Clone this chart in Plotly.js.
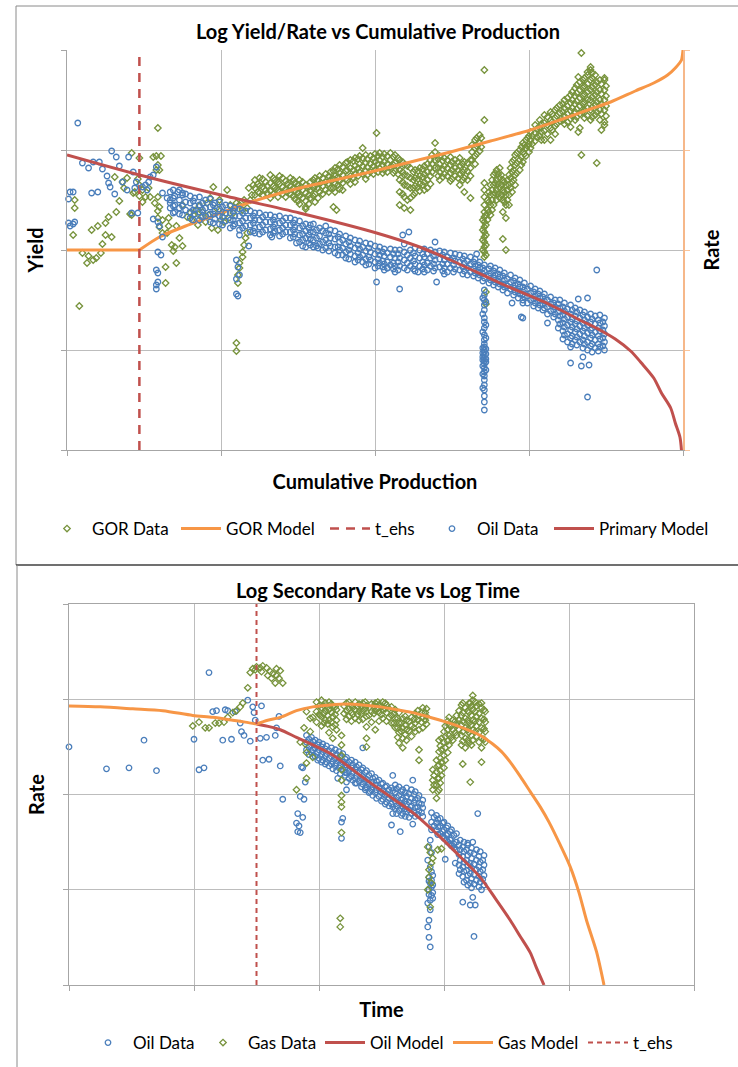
<!DOCTYPE html>
<html><head><meta charset="utf-8">
<script src="https://cdn.plot.ly/plotly-3.0.1.min.js"></script>
<style>html,body{margin:0;padding:0;background:#fff}#chart{width:738px;height:1067px}</style>
</head><body><div id="chart"></div>
<script>
// ===== Top chart: Log Yield/Rate vs Cumulative Production (x: cumulative, y: log10 value) =====
// rows: [x, y1, y2, ...]
const topGorData = [
 [0.59,3.22],[0.42,2.97],[0.56,2.93],[0.58,2.94],[0.61,2.94],[0.47,2.92],[0.59,2.85],[0.58,2.80],[0.60,2.80],[0.31,2.73],[0.36,2.68],[0.39,2.72],[0.46,2.71],[0.47,2.65],[0.44,2.58],[0.37,2.62],[0.43,2.57],[0.49,2.60],[0.53,2.62],[0.05,2.50],[0.05,2.42],[0.34,2.49],[0.47,2.54],[0.51,2.53],[0.54,2.53],[0.59,2.53],[0.49,2.48],[0.57,2.47],[0.60,2.43],[0.59,2.39],[0.32,2.38],[0.27,2.33],[0.25,2.27],[0.20,2.24],[0.16,2.20],[0.04,2.15],[0.29,2.13],[0.25,2.15],[0.23,2.06],[0.41,2.36],[0.42,2.35],[0.59,2.32],[0.62,2.30],[0.66,2.32],[0.60,2.23],[0.66,2.24],[0.62,2.17],[0.65,2.17],[0.71,2.24],[0.73,2.12],[0.68,2.05],[0.70,2.03],[0.69,1.99],[0.75,2.04],[0.71,1.87],[0.64,1.83],[0.64,1.67],[0.10,1.97],[0.14,1.94],[0.13,1.87],[0.17,1.90],[0.19,1.92],[0.22,1.97],[0.08,1.44],
 [0.78,2.33],[0.80,2.37],[0.82,2.35],[0.84,2.40],[0.86,2.44],[0.88,2.38],[0.91,2.47],[0.93,2.52],[0.95,2.63],[0.97,2.42],[0.99,2.50],[1.01,2.38],[1.04,2.60],[1.06,2.45],[1.08,2.37],[1.10,2.47],[0.98,2.20],[1.02,2.28],[1.14,2.40],[1.17,2.42],[1.19,2.50],[1.20,2.55],[0.90,2.28],[0.85,2.25],[0.94,2.22],[0.75,2.45],[0.81,2.30],[0.87,2.33],[0.92,2.35],[1.00,2.30],[1.05,2.32],[1.12,2.45],[1.15,2.50],[1.18,2.62],[1.21,2.65],
 [1.17,2.17],[1.16,2.12],[1.15,2.05],[1.14,1.98],[1.14,1.93],[1.12,1.87],[1.12,1.82],[1.11,1.75],[1.11,1.67],[1.10,1.07],[1.10,0.99],
 [1.22,2.70,2.62,2.55],[1.25,2.72,2.64,2.57],[1.29,2.68,2.60],[1.32,2.75,2.67,2.59,2.52],[1.35,2.70,2.62],[1.38,2.74,2.66,2.58],[1.42,2.69,2.61,2.53],[1.45,2.72,2.64,2.56],[1.48,2.67,2.59,2.51],[1.51,2.70,2.62,2.54,2.46],[1.55,2.65,2.57,2.49,2.41],[1.58,2.68,2.60,2.52],[1.61,2.72,2.64,2.56,2.48],[1.64,2.74,2.66,2.58],[1.68,2.76,2.68,2.60],[1.71,2.78,2.70,2.62],[1.74,2.82,2.74,2.66,2.58],[1.77,2.85,2.77,2.69,2.61],[1.81,2.87,2.79,2.71],[1.84,2.90,2.82,2.74,2.66],[1.87,2.92,2.84,2.76,2.68],[1.90,2.94,2.86,2.78],[1.94,2.95,2.87,2.79,2.71],[1.97,2.94,2.86,2.78],[2.00,2.96,2.88,2.80],[2.03,2.97,2.90,2.82],[2.06,2.96,2.88,2.80],[2.10,2.97,2.90,2.83],[2.13,2.95,2.87,2.79],[2.16,2.90,2.80,2.70,2.58,2.45],[2.19,2.85,2.75,2.65,2.53,2.42],[2.23,2.82,2.72,2.62,2.52,2.40],[2.26,2.80,2.72,2.64,2.57],[2.29,2.82,2.74,2.66,2.59],[2.32,2.84,2.76,2.68,2.60],[2.36,2.90,2.82,2.74,2.66],[2.39,3.07,2.98,2.90,2.82],[2.42,2.94,2.86,2.78,2.70],[2.45,2.92,2.84,2.76],[2.49,2.93,2.85,2.77,2.69],[2.52,2.90,2.82,2.74],[2.55,2.92,2.84,2.76,2.65],[2.58,2.88,2.80,2.72,2.58],[2.62,2.90,2.82,2.74,2.52],[2.65,3.10,3.02,2.94,2.86],[2.68,3.15,3.07,2.99],
 [1.24,2.66,2.58],[1.27,2.71,2.63,2.55],[1.30,2.64,2.57],[1.34,2.72,2.64,2.56],[1.37,2.68,2.60,2.53],[1.40,2.72,2.63,2.56],[1.43,2.66,2.58],[1.47,2.70,2.62,2.54],[1.50,2.65,2.57,2.49],[1.53,2.68,2.60,2.52],[1.57,2.63,2.55,2.46],[1.60,2.70,2.62,2.54],[1.63,2.70,2.62,2.52],[1.66,2.72,2.64,2.56],[1.70,2.74,2.66,2.58],[1.73,2.79,2.71,2.62],[1.76,2.81,2.73,2.65],[1.79,2.83,2.75,2.67,2.60],[1.82,2.88,2.80,2.70],[1.86,2.89,2.80,2.72],[1.89,2.91,2.82,2.74],[1.92,2.92,2.84,2.76],[1.95,2.91,2.83,2.75],[1.99,2.92,2.84,2.76],[2.02,2.94,2.86,2.78],[2.05,2.93,2.85,2.77],[2.08,2.94,2.86,2.78],[2.12,2.93,2.85,2.77],[2.15,2.92,2.84,2.76],[2.18,2.88,2.78,2.68,2.56],[2.21,2.84,2.74,2.64,2.50],[2.25,2.78,2.70,2.62,2.55],[2.28,2.79,2.71,2.63],[2.31,2.81,2.73,2.65],[2.34,2.86,2.78,2.70,2.62],[2.37,2.95,2.86,2.78],[2.41,2.91,2.82,2.74],[2.44,2.89,2.81,2.73],[2.47,2.90,2.82,2.74],[2.50,2.88,2.80,2.71],[2.54,2.88,2.80,2.72],[2.57,2.86,2.78,2.70],[2.60,2.87,2.79,2.70],[2.63,3.05,2.98,2.90],[2.66,3.12,3.04,2.96],[2.69,3.12,3.03],
 [2.71,3.80],[2.71,3.30],[2.01,3.17],[1.92,3.02],[1.55,2.43],[1.73,2.43],[1.75,2.40],
 [2.71,2.67,2.60,2.53,2.45,2.38,2.33,2.28,2.23,2.18,2.13,2.08,2.03,1.98,1.93],[2.70,2.30,2.20,2.10,2.00],[2.72,2.35,2.25,2.15,2.05,1.95,1.58,1.46],
 [2.73,2.50,2.40,2.30],[2.75,2.65,2.55,2.45,2.35],[2.77,2.75,2.65,2.55,2.45],[2.79,2.80,2.70,2.60,2.50],[2.81,2.82,2.72,2.62,2.52],[2.83,2.70,2.60,2.50,2.38,2.11],[2.85,2.65,2.55,2.45,2.32,2.00],[2.87,2.75,2.65,2.55,2.45],[2.89,2.88,2.78,2.68,2.58],[2.91,2.95,2.85,2.75,2.65],[2.94,3.00,2.90,2.80],[2.96,3.07,2.98,2.88],[2.98,3.10,3.02,2.94],[3.00,3.14,3.06,2.98],[3.01,3.18,3.10,3.02],[3.04,3.25,3.17,3.09],[3.07,3.30,3.22,3.14],[3.10,3.35,3.27,3.19,3.10],[3.14,3.38,3.30,3.22],[3.17,3.40,3.32,3.24,3.16],[3.20,3.45,3.37,3.29],[3.23,3.50,3.42,3.34,3.26],[3.27,3.55,3.47,3.39,3.31,3.23],[3.30,3.62,3.54,3.46,3.38,3.30],[3.33,3.68,3.60,3.52,3.44,3.36,3.22],[3.36,3.72,3.64,3.56,3.48,3.40,3.32],[3.40,3.80,3.70,3.60,3.50,3.40,3.30],[3.43,3.75,3.65,3.55,3.45,3.35],[3.46,3.70,3.60,3.50,3.40,3.30],[3.49,3.70,3.60,3.50,3.40,3.28],
 [2.74,2.58,2.48,2.38],[2.76,2.70,2.60,2.50,2.40],[2.78,2.77,2.67,2.57],[2.80,2.76,2.66,2.56],[2.82,2.75,2.65,2.55],[2.84,2.68,2.58,2.48],[2.86,2.70,2.60,2.50],[2.88,2.82,2.72,2.62],[2.90,2.90,2.80,2.70],[2.92,2.97,2.87,2.77],[2.95,3.03,2.93,2.85],[2.97,3.05,2.96],[2.99,3.12,3.04],
 [3.02,3.14,3.06],[3.05,3.21,3.13],[3.08,3.26,3.18,3.10],[3.12,3.33,3.25,3.16],[3.15,3.36,3.28,3.20],[3.18,3.42,3.34,3.26],[3.22,3.46,3.38,3.30],[3.25,3.52,3.44,3.36,3.28],[3.28,3.58,3.50,3.42,3.34],[3.31,3.65,3.57,3.49,3.41,3.33],[3.35,3.70,3.62,3.54,3.46,3.38],[3.38,3.75,3.66,3.58,3.50,3.42,3.34],[3.41,3.72,3.63,3.53,3.43,3.33],[3.44,3.68,3.58,3.48,3.38],[3.47,3.66,3.56,3.46,3.36],[3.50,3.64,3.54,3.44,3.34],
 [3.34,3.97],[3.40,3.83],[3.38,3.78],[3.32,3.73],[3.49,3.72],[3.41,3.77],[3.34,2.95],[3.44,2.87],[3.32,3.18],[3.49,3.25],[3.47,3.20],[3.14,3.10]
];
const topGorModelX = [0.00,0.47,0.60,0.77,0.95,1.12,1.32,1.51,1.74,1.97,2.23,2.49,2.75,3.01,3.20,3.40,3.53,3.69,3.81,3.90,3.95,3.99,4.00];
const topGorModelY = [2.00,2.00,2.13,2.24,2.34,2.44,2.54,2.62,2.70,2.78,2.88,2.98,3.09,3.20,3.30,3.41,3.48,3.59,3.67,3.75,3.82,3.90,4.00];
const topTehsX = [0.47,0.47];
const topTehsY = [0.00,3.97];
const topOilData = [
 [0.07,3.27],[0.29,2.99],[0.32,2.93],[0.40,2.93],[0.10,2.87],[0.14,2.82],[0.17,2.88],[0.21,2.88],[0.23,2.81],[0.34,2.84],[0.26,2.74],[0.27,2.67],[0.28,2.63],[0.36,2.68],[0.43,2.78],[0.45,2.68],[0.44,2.62],[0.49,2.63],[0.51,2.65],[0.53,2.68],[0.54,2.73],[0.56,2.75],[0.58,2.83],[0.52,2.60],[0.04,2.58],[0.02,2.58],[0.01,2.51],[0.16,2.57],[0.20,2.58],[0.31,2.56],[0.39,2.60],[0.01,2.27],[0.04,2.26],[0.05,2.28],[0.02,2.24],[0.42,2.37],[0.46,2.37],[0.56,2.31],[0.59,2.28],[0.60,2.24],[0.62,2.13],[0.59,1.98],[0.61,1.95],[0.58,1.80],[0.59,1.77],[0.59,1.68],[0.58,1.65],[0.58,1.61],[0.62,2.57],[0.65,2.52],[0.67,2.50],[0.69,2.60],[0.72,2.58],[0.75,2.57],
 [0.67,2.58,2.47,2.42],[0.70,2.54,2.45,2.38],[0.73,2.60,2.50,2.42,2.36],[0.77,2.56,2.48,2.40],[0.80,2.54,2.47,2.38,2.32],[0.83,2.52,2.44,2.36],[0.86,2.53,2.45,2.38,2.30],[0.90,2.50,2.42,2.34],[0.93,2.51,2.43,2.36,2.28],[0.96,2.47,2.39,2.31],[0.99,2.48,2.41,2.34,2.26],[1.03,2.45,2.37,2.29],[1.06,2.44,2.37,2.30,2.22],[1.09,2.42,2.34,2.26],[1.12,2.41,2.34,2.27,2.20],[1.16,2.39,2.32,2.24],[1.19,2.39,2.32,2.25,2.18],[1.22,2.37,2.30,2.22],[1.25,2.37,2.30,2.23,2.16],[1.29,2.35,2.28,2.20],[1.32,2.35,2.28,2.21,2.15],[1.35,2.33,2.26,2.19],[1.38,2.34,2.27,2.20,2.14],[1.42,2.32,2.25,2.18],[1.45,2.32,2.25,2.18,2.12],[1.48,2.30,2.23,2.16],[1.51,2.29,2.22,2.15,2.08],[1.55,2.26,2.19,2.12],[1.58,2.25,2.18,2.11,2.05],
 [1.60,2.26,2.18,2.10,2.03],[1.64,2.22,2.14,2.06],[1.68,2.24,2.17,2.10,2.02],[1.71,2.20,2.12,2.04],[1.74,2.19,2.11,2.03,1.97],[1.77,2.16,2.08,2.00],[1.81,2.14,2.06,1.98,1.92],[1.84,2.12,2.04,1.96],[1.87,2.10,2.02,1.94,1.88],[1.90,2.09,2.01,1.93],[1.94,2.07,1.99,1.91,1.85],[1.97,2.06,1.98,1.90],[2.00,2.04,1.96,1.88,1.82],[2.03,2.03,1.95,1.87],[2.06,2.01,1.94,1.86,1.80],[2.10,2.01,1.93,1.85],[2.13,2.00,1.92,1.84,1.78],[2.16,2.00,1.92,1.84],[2.19,2.06,1.98,1.90,1.82],[2.23,2.00,1.92,1.84],[2.26,2.02,1.94,1.86,1.79],[2.29,2.00,1.92,1.84],[2.32,2.01,1.93,1.85,1.78],[2.36,2.00,1.92,1.84],[2.39,2.08,1.98,1.90,1.82],[2.42,1.99,1.91,1.83],[2.45,1.98,1.90,1.82,1.76],[2.49,1.97,1.90,1.82],[2.52,1.96,1.89,1.81],[2.55,1.95,1.88,1.80],[2.58,1.94,1.87,1.79],[2.62,1.93,1.86,1.78],[2.65,1.91,1.84,1.77],[2.68,1.88,1.82,1.75],[2.71,1.85,1.79,1.72],[2.75,1.84,1.77,1.70],[2.78,1.82,1.75,1.68],[2.81,1.80,1.73,1.66],[2.84,1.77,1.70,1.63],[2.88,1.75,1.68,1.61],[2.91,1.72,1.65,1.58],[2.94,1.70,1.63,1.56],[2.97,1.67,1.60,1.53],[3.01,1.64,1.57,1.50],[3.04,1.61,1.54,1.47],[3.07,1.59,1.52,1.45],[3.10,1.56,1.49,1.42],[3.14,1.53,1.46,1.39],[3.17,1.50,1.43,1.36],[3.20,1.50,1.42,1.34,1.26],[3.23,1.47,1.39,1.31,1.23,1.15],[3.27,1.45,1.36,1.28,1.20,1.12],[3.30,1.42,1.34,1.26,1.18,1.10],[3.33,1.40,1.32,1.24,1.16,1.08],[3.36,1.38,1.30,1.22,1.14,1.06],[3.40,1.36,1.28,1.20,1.12,1.04],[3.43,1.34,1.26,1.18,1.10,1.02],[3.46,1.35,1.27,1.19,1.11,1.03],[3.49,1.32,1.24,1.16,1.08],
 [0.69,2.52,2.44,2.37],[0.75,2.55,2.44,2.35],[0.82,2.49,2.40,2.30],[0.88,2.47,2.40,2.33],[0.95,2.45,2.36,2.27],[1.01,2.43,2.33,2.25],[1.08,2.39,2.30,2.24],[1.14,2.37,2.29,2.22],[1.21,2.34,2.27,2.19],[1.27,2.33,2.25,2.18],[1.34,2.30,2.23,2.17],[1.40,2.29,2.22,2.16],[1.47,2.27,2.20,2.13],[1.53,2.24,2.16,2.10],[1.57,2.22,2.15,2.07],[1.62,2.20,2.12,2.04],[1.66,2.19,2.08,2.00],[1.70,2.16,2.07,1.99],[1.76,2.13,2.03,1.95],[1.79,2.10,2.02,1.95],[1.83,2.08,2.00,1.91],[1.89,2.05,1.97,1.90],[1.92,2.03,1.95,1.88],[1.96,2.02,1.93,1.86],[2.02,1.99,1.91,1.84],[2.05,1.98,1.89,1.83],[2.08,1.97,1.88,1.82],[2.12,1.96,1.87,1.81],[2.15,1.96,1.88,1.80],[2.21,1.95,1.87,1.80],[2.25,1.97,1.89,1.81],[2.31,1.96,1.88,1.81],[2.34,1.96,1.87,1.80],[2.38,1.94,1.86,1.79],[2.44,1.95,1.86,1.79],[2.47,1.93,1.86,1.78],[2.51,1.92,1.85,1.78],[2.57,1.91,1.83,1.76],[2.60,1.89,1.82,1.75],[2.64,1.88,1.81,1.74],[2.67,1.85,1.78,1.72],[2.70,1.82,1.76,1.69],[2.74,1.81,1.74,1.67],[2.77,1.79,1.72,1.65],[2.80,1.76,1.69,1.63],[2.83,1.74,1.66,1.60],[2.86,1.71,1.64,1.57],[2.90,1.69,1.62,1.55],[2.93,1.66,1.59,1.52],[2.96,1.63,1.56,1.50],[2.99,1.61,1.54,1.47],[3.03,1.58,1.51,1.44],[3.06,1.56,1.49,1.42],[3.09,1.53,1.46,1.40],[3.12,1.50,1.43,1.36],[3.16,1.47,1.40,1.33],[3.19,1.46,1.38,1.30,1.22],[3.22,1.43,1.35,1.27,1.19,1.11],[3.25,1.41,1.33,1.25,1.16,1.08],[3.28,1.40,1.31,1.23,1.14,1.06],[3.31,1.38,1.29,1.21,1.13,1.05],[3.35,1.35,1.27,1.19,1.10,1.02],[3.38,1.33,1.25,1.17,1.08,1.00],[3.41,1.31,1.22,1.15,1.06,0.98],[3.45,1.30,1.22,1.14,1.06,0.99],[3.48,1.28,1.20,1.12,1.04],
 [1.12,2.15],[1.18,2.04],[1.10,1.90],[1.11,1.83],[1.12,1.75],[1.10,1.71],[1.11,1.54],[1.10,1.56],[1.22,2.17],[1.33,2.13],[1.49,2.07],[1.53,2.04],[1.55,2.03],[1.63,2.02],[2.01,1.68],[2.16,1.61],[2.28,1.78],[2.40,1.68],[2.18,2.15],[2.22,2.18],[2.08,1.82],[2.66,1.96],[2.89,1.47],[2.96,1.47],[2.96,1.32],[3.12,1.27],[3.44,1.80],[3.27,1.03],[3.27,0.87],[3.34,0.84],[3.39,0.85],[3.35,0.93],[3.38,0.53],[2.95,1.33],[3.32,1.51],[3.38,1.52],[3.49,1.00],
 [2.71,1.60,1.55,1.50,1.45,1.40,1.32,1.28,1.22,1.15,1.10,1.06,1.03,1.00,0.98,0.95,0.92,0.89,0.86,0.82,0.78,0.74,0.70,0.65,0.60,0.54,0.48,0.40],[2.70,1.52,1.36,1.18,1.02,0.97,0.93,0.90,0.84,0.76,0.62],[2.72,1.48,1.25,1.12,1.01,0.96,0.91,0.88,0.80]
];
const topPrimaryX = [0.00,0.47,1.00,1.51,2.01,2.29,2.49,2.81,3.14,3.33,3.46,3.56,3.66,3.73,3.81,3.86,3.92,3.95,3.98,3.99];
const topPrimaryY = [2.95,2.75,2.55,2.37,2.17,2.03,1.90,1.67,1.45,1.30,1.20,1.11,0.99,0.87,0.72,0.57,0.42,0.27,0.13,0.00];

// ===== Bottom chart: Log Secondary Rate vs Log Time (x: log10 time, y: log10 rate) =====
const botOilData = [
 [0.00,2.50],[0.30,2.27],[0.48,2.28],[0.70,2.25],[0.60,2.57],[1.00,2.58],[1.04,2.26],[1.08,2.28],[1.12,3.28],[1.15,2.87],[1.18,2.88],[1.23,2.57],[1.30,2.58],[1.25,2.89],[1.27,2.88],[1.33,2.87],[1.37,2.75],[1.38,2.66],[1.40,2.62],[1.43,2.99],[1.45,2.56],[1.47,2.92],[1.48,2.86],[1.49,2.78],[1.53,2.59],[1.54,2.93],[1.55,2.36],[1.58,2.60],[1.60,2.37],[1.65,2.62],[1.66,2.70],[1.68,2.82],[1.69,2.30],[1.71,1.95],
 [1.86,2.29],[1.87,2.28],[1.89,2.13],[1.85,1.98],[1.88,1.95],[1.83,1.80],[1.87,1.76],[1.82,1.70],[1.83,1.61],[1.84,1.67],[1.85,1.60],
 [1.90,2.62,2.55,2.47],[1.94,2.60,2.52,2.44],[1.97,2.57,2.49,2.40],[2.00,2.55,2.47,2.38],[2.03,2.53,2.45,2.36],[2.06,2.51,2.43,2.34],[2.10,2.49,2.40,2.32],[2.13,2.47,2.38,2.30],[2.16,2.45,2.36,2.28],[2.19,2.43,2.34,2.26],[2.22,2.39,2.31,2.23],[2.26,2.36,2.28,2.19],[2.29,2.34,2.26,2.17],[2.32,2.31,2.23,2.14],[2.35,2.28,2.19,2.11],[2.38,2.25,2.16,2.08],[2.42,2.22,2.13,2.05],[2.45,2.18,2.10,2.02],[2.48,2.15,2.07,1.98],[2.51,2.12,2.04,1.95],[2.54,2.09,2.01,1.92],[2.58,2.07,1.98,1.90],[2.61,2.10,2.02,1.93,1.85],[2.64,2.08,1.99,1.91,1.83],[2.67,2.05,1.96,1.88,1.80],[2.70,2.07,1.98,1.90,1.82],[2.74,2.05,1.96,1.88,1.80],[2.77,2.03,1.94,1.86,1.77],[2.80,1.99,1.91,1.83],[2.83,1.94,1.86,1.77],
 [1.92,2.58,2.50,2.42],[1.95,2.56,2.47,2.40],[1.99,2.52,2.44,2.36],[2.02,2.50,2.42,2.34],[2.05,2.48,2.40,2.32],[2.08,2.46,2.38,2.30],[2.11,2.44,2.35,2.27],[2.14,2.42,2.33,2.25],[2.17,2.40,2.31,2.22],[2.21,2.37,2.28,2.20],[2.24,2.34,2.25,2.17],[2.27,2.31,2.23,2.15],[2.30,2.29,2.20,2.12],[2.34,2.26,2.17,2.08],[2.37,2.23,2.14,2.05],[2.40,2.20,2.11,2.02],[2.43,2.17,2.08,1.99],[2.46,2.14,2.05,1.96],[2.50,2.11,2.02,1.93],[2.53,2.08,1.99,1.90],[2.56,2.05,1.96,1.88],[2.59,2.04,1.96,1.87,1.80],[2.62,2.06,1.97,1.88,1.80],[2.66,2.03,1.94,1.85,1.78],[2.69,2.02,1.93,1.85,1.77],[2.72,2.01,1.92,1.84,1.76],[2.76,2.00,1.91,1.82],[2.79,1.96,1.87,1.79],[2.82,1.90,1.81],
 [2.03,2.36],[2.15,2.17],[2.22,2.13],[2.29,2.12],[2.22,2.05],[2.37,2.07],[2.35,2.49],[2.41,2.03],[2.58,1.68],[2.65,1.61],[2.75,1.69],[2.18,1.71],[2.18,1.54],[2.19,1.75],[2.21,2.23],[2.59,2.20],[2.75,2.15],
 [2.89,1.52,1.24,1.07,0.89,0.79,0.40],[2.88,1.45,1.13,1.00,0.68,0.50],[2.90,1.39,1.19,1.10,1.03,0.94],[2.87,1.31,0.86,0.61],[2.91,1.15,1.05,0.97,0.91],[2.88,1.09,0.95],
 [2.90,1.81,1.71,1.63],[2.94,1.78,1.70,1.62],[2.97,1.75,1.67,1.59],[3.00,1.71,1.63,1.54],[3.03,1.67,1.59,1.50],[3.06,1.63,1.54,1.46],[3.10,1.59,1.50,1.42],[3.13,1.52,1.42,1.31,1.21],[3.16,1.50,1.40,1.29,1.19,1.08],[3.19,1.47,1.36,1.26,1.15,1.05],[3.22,1.44,1.33,1.23,1.12,1.02],[3.26,1.42,1.31,1.21,1.10],[3.29,1.40,1.29,1.19,1.08],[3.32,1.36,1.26,1.15,1.05],
 [2.92,1.76,1.67],[2.95,1.74,1.66,1.58],[2.99,1.70,1.61,1.56],[3.02,1.65,1.57,1.52],[3.05,1.61,1.52,1.48],[3.08,1.57,1.48,1.44],[3.12,1.47,1.37,1.26,1.17],[3.15,1.45,1.35,1.24,1.14],[3.18,1.42,1.31,1.20,1.10],[3.21,1.39,1.28,1.17,1.07],[3.24,1.38,1.27,1.16,1.06],[3.28,1.35,1.24,1.14,1.03],[3.31,1.31,1.21,1.11],
 [3.27,1.80],[3.23,1.50],[3.19,1.49],[3.01,1.32],[3.09,1.28],[3.15,0.87],[3.21,0.84],[3.25,0.84],[3.24,0.51],[3.23,0.92],[3.30,1.00]
];
const botGasData = [
 [0.99,2.72],[1.04,2.76],[1.09,2.70],[1.12,2.70],[1.17,2.75],[1.20,2.75],[1.24,2.76],[1.27,2.81],[1.31,2.86],[1.34,2.88],[1.37,2.92],[1.39,2.96],[1.43,3.12],
 [1.45,3.28],[1.47,3.32],[1.50,3.34],[1.53,3.33],[1.55,3.35],[1.58,3.33],[1.61,3.29],[1.63,3.27],[1.66,3.32],[1.69,3.30],[1.65,3.17],[1.68,3.22],[1.71,3.17],[1.62,3.22],[1.59,3.25],[1.54,3.29],[1.66,3.25],[1.49,3.31],
 [1.90,2.87],[1.95,2.81],[1.88,2.70],[1.93,2.66],[1.85,2.55],[1.89,2.53],[1.90,2.44],[1.90,2.33],[1.90,2.17],[1.82,2.05],[1.95,2.39],[1.93,2.80],[2.01,2.83],
 [1.98,2.97,2.87,2.76],[2.02,2.99,2.91,2.82,2.72],[2.05,2.96,2.88,2.78],[2.08,2.97,2.89,2.78,2.65],[2.11,2.93,2.82,2.71,2.59],[2.14,2.89,2.78,2.68],[2.18,2.62,2.52,2.41,2.26,2.15,1.99,1.92,1.87,1.60],[2.17,0.70,0.61],[2.22,2.96,2.88,2.79],[2.26,2.94,2.86,2.77],[2.29,2.97,2.89,2.80],[2.32,2.95,2.87,2.78],[2.35,2.96,2.88,2.79],[2.38,2.93,2.82,2.71,2.59,2.50],[2.42,2.95,2.87,2.76],[2.45,2.96,2.88,2.68],[2.48,2.94,2.86,2.77],[2.51,2.97,2.89,2.80],[2.54,2.94,2.86,2.77],[2.58,2.92,2.83,2.75],[2.61,2.89,2.80,2.70],[2.64,2.86,2.75,2.65,2.54],[2.67,2.80,2.70,2.59,2.49],[2.70,2.78,2.68,2.57],[2.74,2.81,2.72,2.61],[2.77,2.85,2.75,2.66],[2.80,2.83,2.68,2.47,2.36],[2.83,2.91,2.81,2.70],[2.86,2.90,2.82,2.74],
 [2.00,2.93,2.84],[2.04,2.93,2.85,2.75],[2.07,2.92,2.83,2.74],[2.10,2.95,2.86,2.76],[2.13,2.92,2.84,2.73],[2.20,2.93,2.85],[2.24,2.97,2.90,2.82],[2.27,2.91,2.84],[2.31,2.92,2.84],[2.34,2.93,2.85],[2.37,2.97,2.90],[2.40,2.91,2.83],[2.44,2.93,2.85],[2.47,2.97,2.90],[2.50,2.92,2.84],[2.53,2.96,2.90],[2.56,2.90,2.81],[2.60,2.85,2.75],[2.63,2.80,2.70,2.60],[2.66,2.75,2.66],[2.69,2.82,2.73,2.63],[2.72,2.77,2.67],[2.76,2.79,2.70],[2.79,2.88,2.78],[2.82,2.86,2.76],[2.85,2.86,2.78],
 [2.87,1.45,1.00],[2.89,1.39,0.82],[2.91,1.33],[2.90,1.28,1.07],[2.88,1.21,1.13],[2.95,1.42],[2.98,1.43],
 [2.91,2.05,2.15,2.26],[2.94,1.96,2.10,2.24,2.36],[2.96,2.05,2.17,2.31,2.45,2.57],[2.98,2.20,2.34,2.47,2.59],[3.01,2.36,2.49,2.61,2.72],[3.04,2.52,2.62,2.73,2.81],[3.07,2.57,2.68,2.78],[3.10,2.62,2.73,2.83],
 [2.92,2.10,2.20],[2.95,2.03,2.17,2.30],[2.97,2.12,2.25,2.38,2.51],[3.00,2.28,2.41,2.55,2.66],[3.03,2.44,2.56,2.68,2.77],[3.06,2.60,2.72],[3.09,2.65,2.77],
 [3.14,2.94,2.83,2.73,2.62,2.52],[3.17,2.91,2.80,2.70,2.59,2.49],[3.20,2.96,2.86,2.75,2.65,2.54],[3.23,2.99,2.89,2.78,2.68,2.57],[3.26,2.93,2.82,2.72,2.61],[3.30,2.91,2.80,2.70,2.59,2.49],[3.33,2.87,2.76,2.66,2.55],
 [3.12,2.88,2.78,2.68],[3.15,2.96,2.86,2.77,2.66,2.56],[3.19,2.88,2.78,2.68,2.57],[3.22,2.93,2.83,2.73,2.62,2.52],[3.25,2.97,2.87,2.77,2.66],[3.28,2.95,2.85,2.76,2.65,2.55],[3.32,2.89,2.79,2.69,2.58],
 [3.23,3.04],[3.21,2.96],[3.30,2.96],[3.30,2.34],[3.21,2.13],[3.15,2.32]
];
const botOilModelX = [1.50,1.61,1.69,1.82,1.95,2.09,2.22,2.35,2.49,2.62,2.75,2.89,3.02,3.15,3.29,3.41,3.53,3.61,3.69,3.74,3.80];
const botOilModelY = [2.74,2.71,2.68,2.60,2.52,2.43,2.31,2.18,2.05,1.93,1.81,1.65,1.49,1.32,1.13,0.91,0.68,0.51,0.34,0.18,0.00];
const botGasModelX = [0.00,0.25,0.51,0.75,0.99,1.15,1.31,1.41,1.50,1.59,1.69,1.82,1.95,2.09,2.22,2.35,2.49,2.62,2.75,2.89,3.02,3.15,3.29,3.39,3.46,3.53,3.61,3.69,3.77,3.84,3.93,4.01,4.08,4.14,4.22,4.28];
const botGasModelY = [2.93,2.92,2.90,2.88,2.83,2.81,2.78,2.76,2.74,2.78,2.81,2.88,2.92,2.94,2.95,2.94,2.92,2.89,2.86,2.81,2.76,2.70,2.62,2.53,2.45,2.34,2.19,2.03,1.87,1.71,1.47,1.24,0.97,0.68,0.35,0.00];
const botTehsX = [1.50,1.50];
const botTehsY = [0.00,4.00];

// ===== build =====
function flat(rows){const x=[],y=[];rows.forEach(r=>{for(let i=1;i<r.length;i++){x.push(r[0]);y.push(r[i]);}});return {x,y};}
const W=738,H=1067;
const px=v=>v/W, py=v=>1-v/H;
const FONT='Lato, "Liberation Sans", sans-serif';
const BLUE='#4a7ebb', GREEN='#77933c', RED='#c0504d', ORANGE='#f79646';
const oilMarker={symbol:'circle-open',size:5.5,color:BLUE,line:{width:1.3}};
const gasMarker={symbol:'diamond-open',size:5,color:GREEN,line:{width:1.3}};
const kGas=botGasModelX.indexOf(1.50), kGor=1;

const tG=flat(topGorData), tO=flat(topOilData), bO=flat(botOilData), bG=flat(botGasData);
const traces=[
 {type:'scatter',mode:'markers',name:'GOR Data',x:tG.x,y:tG.y,xaxis:'x',yaxis:'y',marker:gasMarker,cliponaxis:false,legend:'legend'},
 {type:'scatter',mode:'lines',name:'GOR Model',x:topGorModelX.slice(0,kGor+1),y:topGorModelY.slice(0,kGor+1),xaxis:'x',yaxis:'y',line:{color:ORANGE,width:3},legend:'legend2'},
 {type:'scatter',mode:'lines',name:'GOR Model',x:topGorModelX.slice(kGor),y:topGorModelY.slice(kGor),xaxis:'x',yaxis:'y',line:{color:ORANGE,width:3,shape:'spline',smoothing:0.6},legend:'legend2',showlegend:false},
 {type:'scatter',mode:'lines',name:'t_ehs',x:topTehsX,y:topTehsY,xaxis:'x',yaxis:'y',line:{color:RED,width:2.5,dash:'9px,7px'},legend:'legend3'},
 {type:'scatter',mode:'markers',name:'Oil Data',x:tO.x,y:tO.y,xaxis:'x',yaxis:'y3',marker:oilMarker,cliponaxis:false,legend:'legend4'},
 {type:'scatter',mode:'lines',name:'Primary Model',x:topPrimaryX,y:topPrimaryY,xaxis:'x',yaxis:'y3',line:{color:RED,width:3,shape:'spline',smoothing:0.8},legend:'legend5'},
 {type:'scatter',mode:'markers',name:'Oil Data',x:bO.x,y:bO.y,xaxis:'x2',yaxis:'y2',marker:oilMarker,cliponaxis:false,legend:'legend6'},
 {type:'scatter',mode:'markers',name:'Gas Data',x:bG.x,y:bG.y,xaxis:'x2',yaxis:'y2',marker:gasMarker,cliponaxis:false,legend:'legend7'},
 {type:'scatter',mode:'lines',name:'Oil Model',x:botOilModelX,y:botOilModelY,xaxis:'x2',yaxis:'y2',line:{color:RED,width:3,shape:'spline',smoothing:0.8},legend:'legend8'},
 {type:'scatter',mode:'lines',name:'Gas Model',x:botGasModelX.slice(0,kGas+1),y:botGasModelY.slice(0,kGas+1),xaxis:'x2',yaxis:'y2',line:{color:ORANGE,width:3,shape:'spline',smoothing:0.8},legend:'legend9'},
 {type:'scatter',mode:'lines',name:'Gas Model',x:botGasModelX.slice(kGas),y:botGasModelY.slice(kGas),xaxis:'x2',yaxis:'y2',line:{color:ORANGE,width:3,shape:'spline',smoothing:0.8},legend:'legend9',showlegend:false},
 {type:'scatter',mode:'lines',name:'t_ehs',x:botTehsX,y:botTehsY,xaxis:'x2',yaxis:'y2',line:{color:RED,width:2,dash:'5px,4px'},legend:'legend10'}
];

const ax={showticklabels:false,ticks:'outside',ticklen:5,tickcolor:'#a6a6a6',tickwidth:1,showline:true,linecolor:'#a6a6a6',linewidth:1.2,
  showgrid:true,gridcolor:'#bdbdbd',gridwidth:1,zeroline:false,dtick:1,tick0:0,fixedrange:true};
const tfont={family:FONT,size:20,color:'#000'};
function leg(xpx,ypx){return {orientation:'h',x:px(xpx),xanchor:'left',y:py(ypx),yanchor:'middle',bgcolor:'rgba(0,0,0,0)',borderwidth:0,itemwidth:40,font:{family:FONT,size:17,color:'#000'},itemclick:false,itemdoubleclick:false};}

const layout={
 width:W,height:H,margin:{l:0,r:0,t:0,b:0},paper_bgcolor:'#fff',plot_bgcolor:'#fff',
 font:{family:FONT,color:'#000'},showlegend:true,
 title:{text:'<b>Log Yield/Rate vs Cumulative Production</b>',x:px(378),xanchor:'center',xref:'paper',y:py(32),yanchor:'middle',yref:'paper',font:{family:FONT,size:20,color:'#000'}},
 xaxis:Object.assign({},ax,{domain:[px(67),px(683)],range:[0,4],anchor:'y',title:{text:'<b>Cumulative Production</b>',font:tfont,standoff:19}}),
 yaxis:Object.assign({},ax,{domain:[py(450),py(50)],range:[0,4],anchor:'x',title:{text:'<b>Yield</b>',font:tfont,standoff:11}}),
 yaxis3:{overlaying:'y',side:'right',anchor:'x',range:[0,4],dtick:1,tick0:0,showgrid:false,showticklabels:false,ticks:'outside',ticklen:5,tickcolor:'#f8c49c',showline:true,linecolor:'#f6b88a',linewidth:1.5,zeroline:false,fixedrange:true,title:{text:'<b>Rate</b>',font:tfont,standoff:16}},
 xaxis2:Object.assign({},ax,{domain:[px(69),px(694)],range:[0,5],anchor:'y2',mirror:true,title:{text:'<b>Time</b>',font:tfont,standoff:12}}),
 yaxis2:Object.assign({},ax,{domain:[py(985),py(604)],range:[0,4],anchor:'x2',mirror:true,title:{text:'<b>Rate</b>',font:tfont,standoff:12}}),
 annotations:[{text:'<b>Log Secondary Rate vs Log Time</b>',xref:'paper',yref:'paper',x:px(378),y:py(590),xanchor:'center',yanchor:'middle',showarrow:false,font:{family:FONT,size:20,color:'#000'}}],
 shapes:[
  {type:'line',xref:'paper',yref:'paper',x0:px(16),x1:1,y0:py(6),y1:py(6),line:{color:'#8a8a8a',width:1}},
  {type:'line',xref:'paper',yref:'paper',x0:px(16),x1:px(16),y0:py(6),y1:py(565),line:{color:'#8a8a8a',width:1}},
  {type:'line',xref:'paper',yref:'paper',x0:px(16),x1:1,y0:py(565),y1:py(565),line:{color:'#404040',width:1.5}},
  {type:'line',xref:'paper',yref:'paper',x0:px(17),x1:px(17),y0:py(565),y1:0,line:{color:'#8a8a8a',width:1}}
 ],
 legend:leg(42,529),legend2:leg(176,529),legend3:leg(325,529),legend4:leg(427,529),legend5:leg(549,529),
 legend6:leg(83,1043),legend7:leg(198,1043),legend8:leg(320,1043),legend9:leg(448,1043),legend10:leg(583,1043)
};
Plotly.newPlot('chart',traces,layout,{staticPlot:true,displayModeBar:false});
</script></body></html>
